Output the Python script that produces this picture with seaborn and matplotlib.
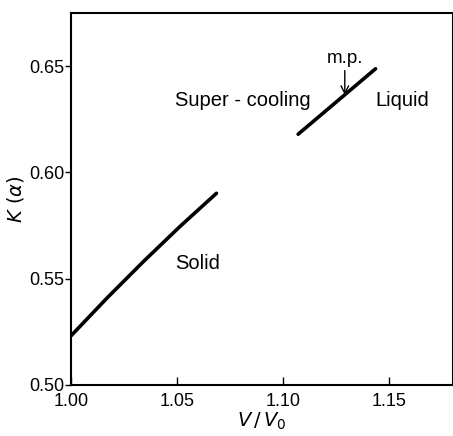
import matplotlib
matplotlib.use("Agg")
import matplotlib.pyplot as plt
import seaborn as sns
import pandas as pd

# Data
solid_x = [1.000, 1.017, 1.034, 1.051, 1.0685]
solid_y = [0.5232, 0.5410, 0.5580, 0.5743, 0.5902]
liquid_x = [1.107, 1.1435]
liquid_y = [0.618, 0.6488]
mp_x = 1.129
mp_y = 0.6365

x_ticks = [1.00, 1.05, 1.10, 1.15]
y_ticks = [0.50, 0.55, 0.60, 0.65]
x_tick_labels = ["1.00", "1.05", "1.10", "1.15"]
y_tick_labels = ["0.50", "0.55", "0.60", "0.65"]

sns.set_style("ticks")
plt.rcParams['font.family'] = ['Liberation Sans', 'DejaVu Sans']
plt.rcParams['text.color'] = 'black'
plt.rcParams['axes.labelcolor'] = 'black'
plt.rcParams['xtick.color'] = 'black'
plt.rcParams['ytick.color'] = 'black'

df = pd.concat([
    pd.DataFrame({"x": solid_x, "y": solid_y, "phase": "Solid"}),
    pd.DataFrame({"x": liquid_x, "y": liquid_y, "phase": "Liquid"}),
])

fig = plt.figure(figsize=(4.53, 4.36), dpi=100)
ax = fig.add_axes([0.157, 0.117, 0.843, 0.853])

sns.lineplot(data=df, x="x", y="y", units="phase", estimator=None,
             color="black", lw=2.6, ax=ax, legend=False, sort=False)

ax.set_xlim(1.0, 1.18)
ax.set_ylim(0.50, 0.675)
ax.set_xticks(x_ticks)
ax.set_xticklabels(x_tick_labels)
ax.set_yticks(y_ticks)
ax.set_yticklabels(y_tick_labels)
ax.tick_params(axis="x", direction="in", length=6, width=1, labelsize=13, pad=6,
               colors="black")
ax.tick_params(axis="y", direction="out", length=4, width=1, labelsize=13, pad=1,
               colors="black")
for s in ax.spines.values():
    s.set_linewidth(1.5)
    s.set_color("black")

ax.set_xlabel(r"$V\,/\,V_0$", fontsize=14, labelpad=0, color="black")
ax.set_ylabel(r"$K\ (\alpha)$", fontsize=14, labelpad=2, color="black")

ax.text(1.049, 0.5574, "Solid", fontsize=14.5, ha="left", va="center", color="black")
ax.text(1.049, 0.634, "Super - cooling", fontsize=14.5, ha="left", va="center", color="black")
ax.text(1.1435, 0.634, "Liquid", fontsize=14.5, ha="left", va="center", color="black")
ax.annotate("m.p.", xy=(mp_x, mp_y), xytext=(mp_x, 0.6495),
            fontsize=13.5, ha="center", va="bottom", color="black",
            arrowprops=dict(arrowstyle="->", color="black", lw=1.0,
                            shrinkA=0, shrinkB=0))

fig.savefig("out.png", dpi=100)
